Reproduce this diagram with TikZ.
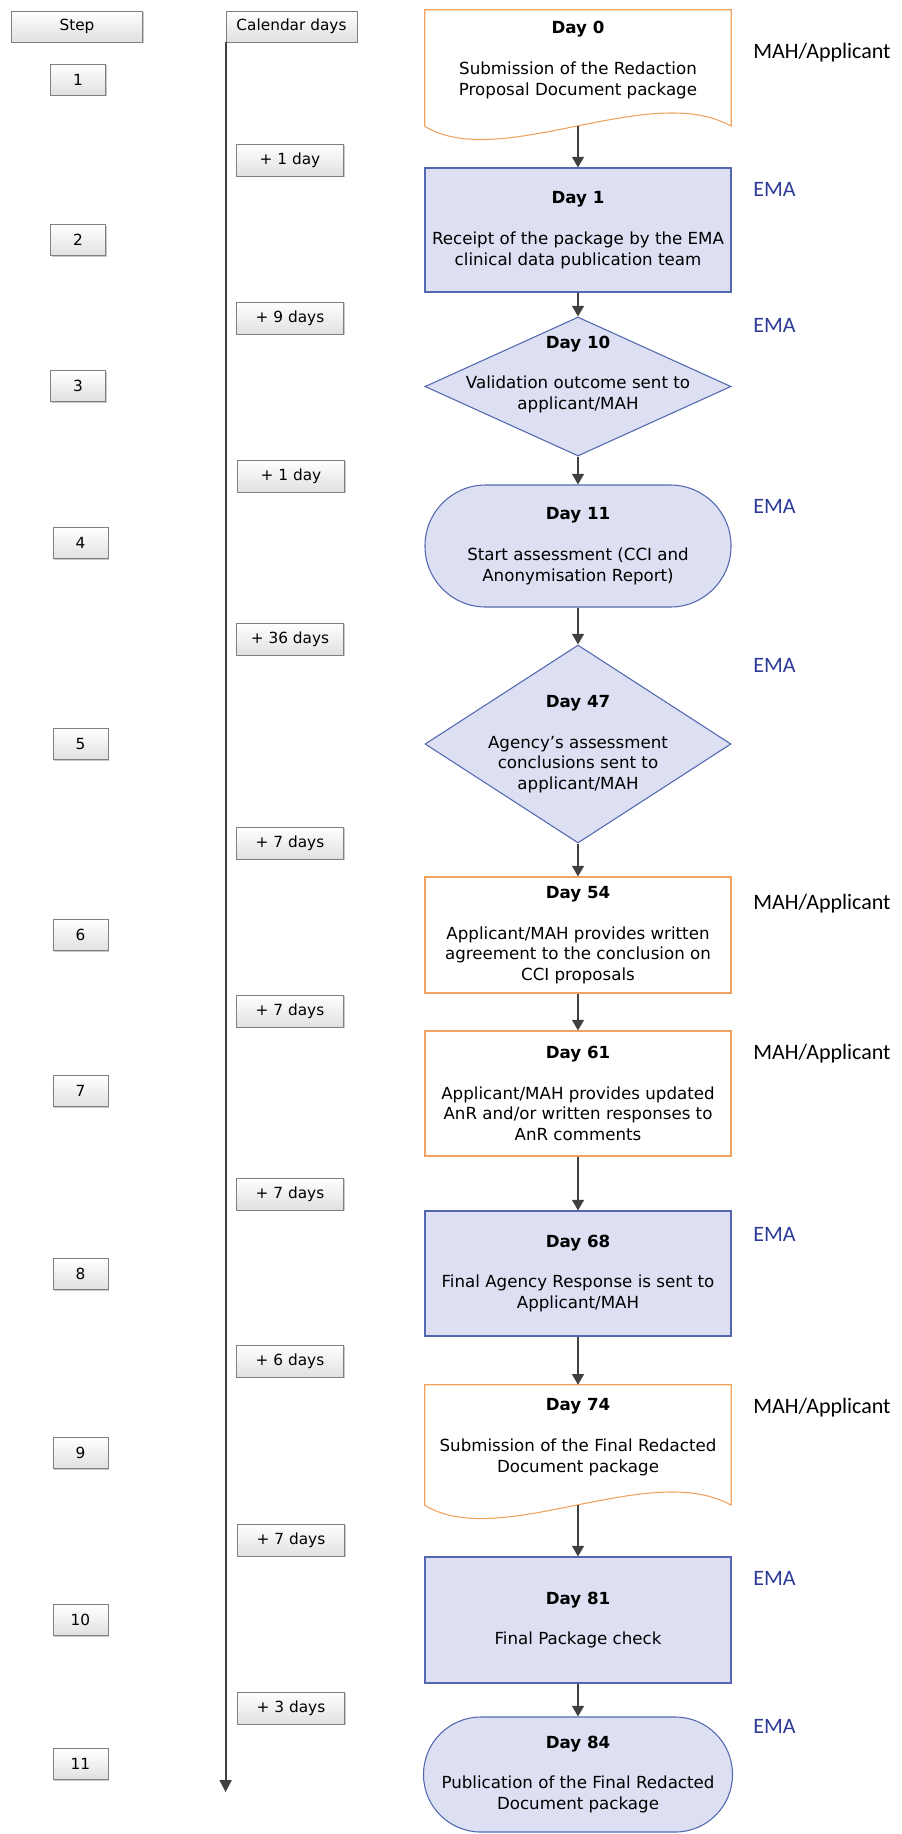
\documentclass[tikz,border=0pt]{standalone}
\usepackage{fontspec}
\setmainfont{DejaVu Sans}
\newfontfamily\labelfont{Carlito}
\usepackage{tikz}
\usetikzlibrary{arrows.meta}
\usetikzlibrary{shapes.geometric}
\usetikzlibrary{shadows}
\definecolor{emafill}{HTML}{DCE0F2}
\definecolor{emaline}{HTML}{5368B0}
\definecolor{mahline}{HTML}{F0A35E}
\definecolor{ematext}{HTML}{2E3B96}
\definecolor{arrowgrey}{HTML}{404040}
\newcommand{\dayhead}[1]{\textbf{#1}\\[15pt]}

\begin{document}
\begin{tikzpicture}[x=0.75pt,y=-0.75pt,
	grey box/.style={draw=black!50,top color=white,bottom color=black!12,drop shadow={shadow xshift=0.8pt,shadow yshift=-0.8pt,fill=black!30,opacity=0.7},font=\fontsize{11.5}{13}\selectfont,inner sep=0pt},
	step box/.style={grey box,minimum width=41.25pt,minimum height=23.25pt},
	gap box/.style={grey box,minimum width=80.25pt,minimum height=24pt},
	head box/.style={grey box,minimum width=98.5pt,minimum height=23.25pt},
	day text/.style={align=center,font=\fontsize{12.5}{15.5}\selectfont,inner sep=1pt},
	ema box/.style={day text,draw=emaline,fill=emafill,line width=0.8pt,minimum width=229.5pt},
	mah box/.style={day text,draw=mahline,fill=white,line width=0.8pt,minimum width=229.5pt},
	ema diamond/.style={diamond,draw=emaline,fill=emafill,line width=0.8pt,minimum width=229.5pt,inner sep=0pt},
	doc box/.style={minimum width=229.5pt,inner sep=0pt},
	doc line/.style={draw=mahline,line width=0.8pt},
	flow/.style={draw=arrowgrey,line width=1.1pt,-{Triangle[width=9pt,length=8pt]}},
	actor/.style={anchor=base west,font=\labelfont\fontsize{16.5}{18}\selectfont,inner sep=0pt}]
	
	\useasboundingbox (0,0) rectangle (901,1834);
	
	% column headers and time line
	\node[head box] (stephead) at (77,26.5) {Step};
	\node[head box] (calhead) at (291.5,26.5) {Calendar days};
	\coordinate (tlend) at (226,1792);
	\draw[draw=arrowgrey,line width=1.5pt,-{Triangle[width=9pt,length=9pt]}] (calhead.south west) -- (calhead.south west |- tlend);
	
	% step numbers
	\node[step box] (s1) at (78,79.5) {1};
	\node[step box] (s2) at (78,240) {2};
	\node[step box] (s3) at (78,386) {3};
	\node[step box] (s4) at (80.5,543) {4};
	\node[step box] (s5) at (80.5,744) {5};
	\node[step box] (s6) at (80.5,935) {6};
	\node[step box] (s7) at (80.5,1091) {7};
	\node[step box] (s8) at (80.5,1274) {8};
	\node[step box] (s9) at (80.5,1453) {9};
	\node[step box] (s10) at (80.5,1620) {10};
	\node[step box] (s11) at (80.5,1764) {11};
	
	% days between steps
	\node[gap box] (g1) at (290,160) {+ 1 day};
	\node[gap box] (g2) at (290,318) {+ 9 days};
	\node[gap box] (g3) at (291,476) {+ 1 day};
	\node[gap box] (g4) at (290,639) {+ 36 days};
	\node[gap box] (g5) at (290,843) {+ 7 days};
	\node[gap box] (g6) at (290,1011) {+ 7 days};
	\node[gap box] (g7) at (290,1194) {+ 7 days};
	\node[gap box] (g8) at (290,1361) {+ 6 days};
	\node[gap box] (g9) at (291,1540) {+ 7 days};
	\node[gap box] (g10) at (291,1708) {+ 3 days};
	
	% flow
	\node[doc box,minimum height=87pt] (day0) at (578,68) {};
	\draw[doc line] (day0.south east) -- (day0.north east) -- (day0.north west) -- (day0.south west) .. controls +(75,46) and +(-81,-46) .. (day0.south east);
	\node[day text] (day0txt) at (578,60) {\dayhead{Day 0}Submission of the Redaction\\Proposal Document package};
	
	\node[ema box,minimum height=93pt] (day1) at (578,230) {\dayhead{Day 1}Receipt of the package by the EMA\\clinical data publication team};
	
	\node[ema diamond,minimum height=104.25pt] (day10) at (578,386.5) {};
	\node[day text] (day10txt) at ([yshift=9pt]day10.center) {\dayhead{Day 10}Validation outcome sent to\\applicant/MAH};
	
	\node[ema box,rounded corners=45.5pt,minimum height=91.5pt] (day11) at (578,546) {\dayhead{Day 11}Start assessment (CCI and\\Anonymisation Report)};
	
	\node[ema diamond,minimum height=148.5pt] (day47) at (578,744) {};
	\node[day text] (day47txt) at (day47.center) {\dayhead{Day 47}Agency’s assessment\\conclusions sent to\\applicant/MAH};
	
	\node[mah box,minimum height=87pt] (day54) at (578,935) {\dayhead{Day 54}Applicant/MAH provides written\\agreement to the conclusion on\\CCI proposals};
	
	\node[mah box,minimum height=93.75pt] (day61) at (578,1093.5) {\dayhead{Day 61}Applicant/MAH provides updated\\AnR and/or written responses to\\AnR comments};
	
	\node[ema box,minimum height=93.75pt] (day68) at (578,1273.5) {\dayhead{Day 68}Final Agency Response is sent to\\Applicant/MAH};
	
	\node[doc box,minimum height=90pt] (day74) at (578,1445) {};
	\draw[doc line] (day74.south east) -- (day74.north east) -- (day74.north west) -- (day74.south west) .. controls +(75,46) and +(-81,-46) .. (day74.south east);
	\node[day text] (day74txt) at (578,1437) {\dayhead{Day 74}Submission of the Final Redacted\\Document package};
	
	\node[ema box,minimum height=94.5pt] (day81) at (578,1620) {\dayhead{Day 81}Final Package check};
	
	\node[ema box,rounded corners=43pt,minimum height=86.25pt,minimum width=231.75pt] (day84) at (578,1774.5) {\dayhead{Day 84}Publication of the Final Redacted\\Document package};
	
	\draw[flow] (day0.south) -- (day1.north);
	\draw[flow] (day1.south) -- (day10.north);
	\draw[flow] (day10.south) -- (day11.north);
	\draw[flow] (day11.south) -- (day47.north);
	\draw[flow] (day47.south) -- (day54.north);
	\draw[flow] (day54.south) -- (day61.north);
	\draw[flow] (day61.south) -- (day68.north);
	\draw[flow] (day68.south) -- (day74.north);
	\draw[flow] (day74.south) -- (day81.north);
	\draw[flow] (day81.south) -- (day84.north);
	
	% who acts
	\node[actor] (a0) at (753,59) {MAH/Applicant};
	\node[actor,ematext] (a1) at (753,196) {EMA};
	\node[actor,ematext] (a10) at (753,332) {EMA};
	\node[actor,ematext] (a11) at (753,513) {EMA};
	\node[actor,ematext] (a47) at (753,672) {EMA};
	\node[actor] (a54) at (753,909) {MAH/Applicant};
	\node[actor] (a61) at (753,1059) {MAH/Applicant};
	\node[actor,ematext] (a68) at (753,1241) {EMA};
	\node[actor] (a74) at (753,1413) {MAH/Applicant};
	\node[actor,ematext] (a81) at (753,1585) {EMA};
	\node[actor,ematext] (a84) at (753,1733) {EMA};
	
\end{tikzpicture}
\end{document}
